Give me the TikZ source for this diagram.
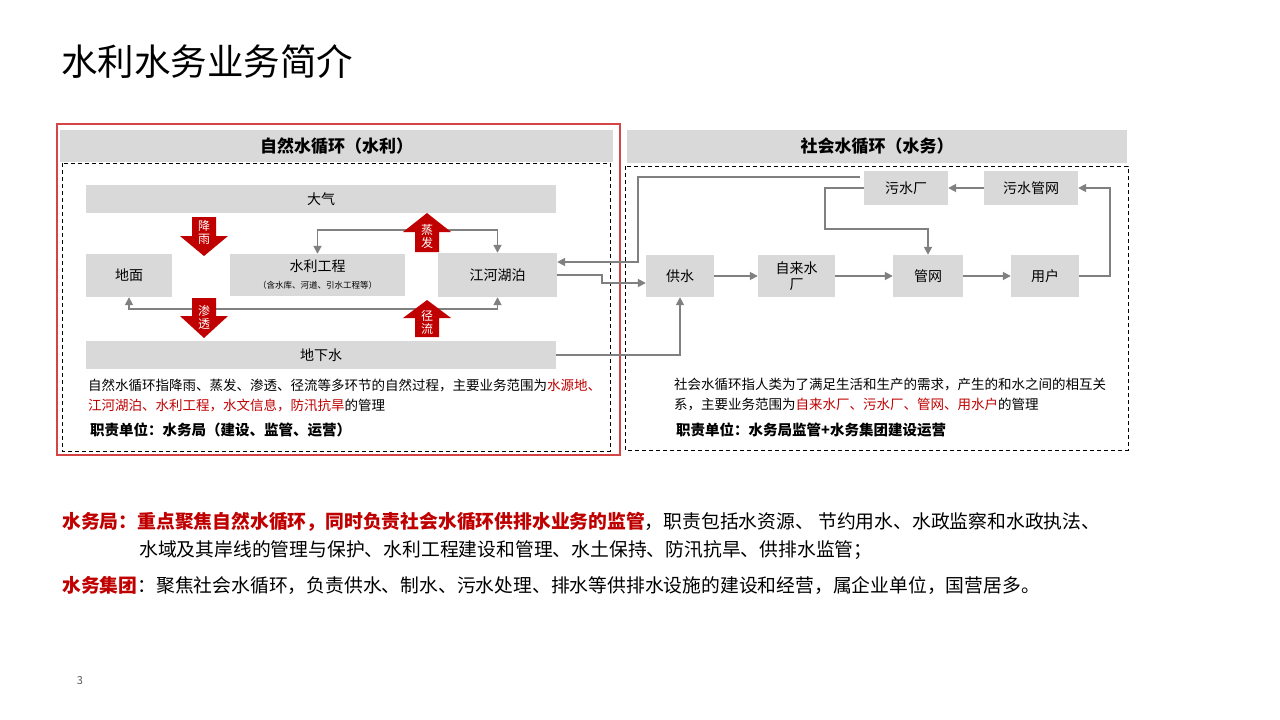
\documentclass[tikz,border=0pt]{standalone}
\usepackage{fontspec}
\setmainfont{Noto Sans CJK SC}
\usetikzlibrary{arrows.meta,calc}
\definecolor{boxgray}{HTML}{D9D9D9}
\definecolor{linegray}{HTML}{808080}
\definecolor{hired}{HTML}{C00000}
\definecolor{framered}{HTML}{D64545}
\definecolor{pagegray}{HTML}{595959}
\newcommand{\setfs}[2]{\fontsize{#1}{#2}\selectfont}
\newcommand{\blkarrow}[4]{\fill[hired] (#1-12,#2) -- (#1+12,#2) -- (#1+12,#3) -- (#1+24,#3) -- (#1,#4) -- (#1-24,#3) -- (#1-12,#3) -- cycle;}

\begin{document}
\begin{tikzpicture}[x=1pt,y=-1pt,
  box/.style={fill=boxgray,inner sep=0pt,align=center,font=\setfs{14}{16}},
  sz/.style 2 args={minimum width=#1pt,minimum height=#2pt},
  hdr/.style={fill=boxgray,inner sep=0pt,font=\setfs{17}{20}\bfseries},
  dashbox/.style={draw=black,dash pattern=on 4pt off 3pt,line width=0.9pt},
  conn/.style={draw=linegray,line width=1.7pt,-{Triangle[length=8pt,width=8pt]}},
  biconn/.style={draw=linegray,line width=1.7pt,{Triangle[length=8pt,width=8pt]}-{Triangle[length=8pt,width=8pt]}},
  arrlbl/.style={text=white,align=center,inner sep=0pt,font=\setfs{12}{13}},
  desc/.style={anchor=west,align=left,inner sep=0pt,font=\setfs{13.5}{20}},
  duty/.style={anchor=west,inner sep=0pt,font=\setfs{14.5}{17}\bfseries},
  note/.style={anchor=west,inner sep=0pt,font=\setfs{18.8}{22}}]
  \fill[white] (0,0) rectangle (1280,720);
  \useasboundingbox (0,0) rectangle (1280,720);
  \node[anchor=west,inner sep=0pt,font=\setfs{36.5}{40}] (title) at (61,62) {水利水务业务简介};
  % natural cycle panel
  \draw[framered,line width=1.1pt] (57,124) rectangle (620,455);
  \node[hdr,sz={553}{32}] (lhdr) at (336.5,146) {自然水循环（水利）};
  \draw[dashbox] (62,163) rectangle (610,451);
  \node[box,sz={470}{28}] (atmo) at (321,199) {大气};
  \node[box,sz={86}{43}] (ground) at (129,275.5) {地面};
  \node[box,sz={175}{42}] (proj) at (317.5,275) {水利工程\\[1pt]{\setfs{8.5}{10}（含水库、河道、引水工程等）}};
  \node[box,sz={119}{44}] (river) at (497.5,275) {江河湖泊};
  \node[box,sz={470}{28}] (gwater) at (321,355) {地下水};
  \draw[biconn] (proj.north) -- ++(0,-24) -| (river.north);
  \draw[biconn] (ground.south) -- ++(0,12) -| (river.south);
  \blkarrow{204}{217}{236}{256}
  \blkarrow{204}{298}{316}{338}
  \blkarrow{427}{252}{232}{213}
  \blkarrow{427}{337}{318}{300}
  \node[arrlbl] (rain) at (204,232.5) {降\\雨};
  \node[arrlbl] (seep) at (204,317.5) {渗\\透};
  \node[arrlbl] (evap) at (427,236.5) {蒸\\发};
  \node[arrlbl] (runoff) at (427,322.5) {径\\流};
  \node[desc] (ldesc) at (88,395) {自然水循环指降雨、蒸发、渗透、径流等多环节的自然过程，主要业务范围为\textcolor{hired}{水源地、}\\
    \textcolor{hired}{江河湖泊、水利工程，水文信息，防汛抗旱}的管理};
  \node[duty] (lduty) at (90,430) {职责单位：水务局（建设、监管、运营）};
  % social cycle panel
  \node[hdr,sz={500}{33}] (rhdr) at (877,146) {社会水循环（水务）};
  \draw[dashbox] (625,166) rectangle (1128,450);
  \node[box,sz={84}{34}] (sewplant) at (906,188) {污水厂};
  \node[box,sz={94}{34}] (sewnet) at (1031,188) {污水管网};
  \node[box,sz={68}{42}] (supply) at (680,276) {供水};
  \node[box,sz={77}{42}] (plant) at (796.5,276) {自来水\\厂};
  \node[box,sz={70}{42}] (pipes) at (928,276) {管网};
  \node[box,sz={68}{42}] (users) at (1045,276) {用户};
  \draw[conn] (supply) -- (plant);
  \draw[conn] (plant) -- (pipes);
  \draw[conn] (pipes) -- (users);
  \draw[conn] (sewnet) -- (sewplant);
  \draw[conn] (users.east) -- ++(31,0) |- (sewnet.east);
  \draw[conn] (sewplant.west) -- ++(-39,0) |- ($(pipes.north)+(0,-26)$) -- (pipes.north);
  \draw[conn] ($(sewplant.west)+(-4,-11)$) -| ($(river.east)+(81,-13)$) -- ($(river.east)+(0,-13)$);
  \draw[conn] (river.east) -- ++(45,0) |- ($(supply.west)+(0,7)$);
  \draw[conn] (gwater.east) -| (supply.south);
  \node[desc] (rdesc) at (674,395) {社会水循环指人类为了满足生活和生产的需求，产生的和水之间的相互关\\
    系，主要业务范围为\textcolor{hired}{自来水厂、污水厂、管网、用水户}的管理};
  \node[duty] (rduty) at (676,430) {职责单位：水务局监管+水务集团建设运营};
  % notes below
  \node[note] (bureau) at (62,522) {\textcolor{hired}{\bfseries 水务局：重点聚焦自然水循环，同时负责社会水循环供排水业务的监管}，职责包括水资源、 节约用水、水政监察和水政执法、};
  \node[note] (bureau2) at (139,550) {水域及其岸线的管理与保护、水利工程建设和管理、水土保持、防汛抗旱、供排水监管；};
  \node[note] (group) at (62,585) {\textcolor{hired}{\bfseries 水务集团}：聚焦社会水循环，负责供水、制水、污水处理、排水等供排水设施的建设和经营，属企业单位，国营居多。};
  \node[inner sep=0pt,text=pagegray,font=\setfs{11}{13}] (page) at (80,681) {3};
\end{tikzpicture}
\end{document}
